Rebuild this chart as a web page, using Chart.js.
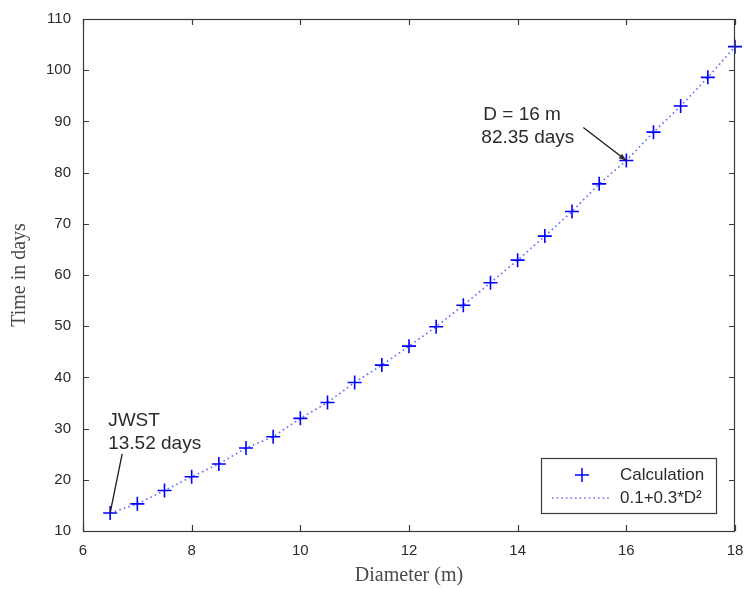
<!DOCTYPE html>
<html>
<head>
<meta charset="utf-8">
<title>Time vs diameter</title>
<script src="https://cdn.jsdelivr.net/npm/chart.js@4/dist/chart.umd.min.js"></script>
<style>
  html, body { margin: 0; padding: 0; background: #ffffff; }
  #wrap { width: 744px; height: 589px; }
</style>
</head>
<body>
<div id="wrap"><canvas id="chart" width="744" height="589"></canvas></div>
<script>
// Mirror diameters (m)
const diameters = [6.5, 7, 7.5, 8, 8.5, 9, 9.5, 10, 10.5, 11, 11.5, 12,
                   12.5, 13, 13.5, 14, 14.5, 15, 15.5, 16, 16.5, 17, 17.5, 18];
// Calculated time in days for each diameter
const calcDays = [13.52, 15.3, 17.9, 20.6, 23.1, 26.2, 28.4, 32.0, 35.1, 39.0, 42.4, 46.1,
                  49.9, 54.1, 58.5, 62.9, 67.6, 72.4, 77.8, 82.35, 87.9, 93.0, 98.6, 104.6];
// Quadratic fit curve sampled at the same diameters
const fitDays = [13.52, 15.3, 17.9, 20.6, 23.1, 26.2, 28.4, 32.0, 35.1, 39.0, 42.4, 46.1,
                 49.9, 54.1, 58.5, 62.9, 67.6, 72.4, 77.8, 82.35, 87.9, 93.0, 98.6, 104.6];

const xTicks = [6, 8, 10, 12, 14, 16, 18];
const yTicks = [10, 20, 30, 40, 50, 60, 70, 80, 90, 100, 110];

const seriesLabels = ['Calculation', '0.1+0.3*D\u00B2'];
const axisTitles = { x: 'Diameter (m)', y: 'Time in days' };
// Annotated points: index into the series plus a name line
const callouts = [
  { index: 0, title: 'JWST' },
  { index: 19, title: 'D = 16 m' }
];

const INK = '#2b2b2b';
const FRAME = '#3a3a3a';
const BLUE = '#0000ff';
const DOTS = 'rgba(70,70,255,0.8)';
const SANS = '"Liberation Sans", Arial, sans-serif';
const SERIF = '"Liberation Serif", "Times New Roman", serif';

const calcPoints = diameters.map((d, i) => ({ x: d, y: calcDays[i] }));
const fitPoints = diameters.map((d, i) => ({ x: d, y: fitDays[i] }));

// Frame with inward ticks on all four sides
const framePlugin = {
  id: 'frame',
  afterDraw(chart) {
    const { ctx, chartArea: a, scales } = chart;
    ctx.save();
    ctx.strokeStyle = FRAME;
    ctx.lineWidth = 1.2;
    ctx.strokeRect(a.left + 0.5, a.top + 0.5, a.right - a.left - 1, a.bottom - a.top);
    const len = 6;
    ctx.beginPath();
    xTicks.forEach(v => {
      const px = Math.round(scales.x.getPixelForValue(v)) + 0.5;
      ctx.moveTo(px, a.bottom); ctx.lineTo(px, a.bottom - len);
      ctx.moveTo(px, a.top); ctx.lineTo(px, a.top + len);
    });
    yTicks.forEach(v => {
      const py = Math.round(scales.y.getPixelForValue(v)) + 0.5;
      ctx.moveTo(a.left, py); ctx.lineTo(a.left + len, py);
      ctx.moveTo(a.right, py); ctx.lineTo(a.right - len, py);
    });
    ctx.stroke();
    ctx.restore();
  }
};

// Callout labels with leader lines
const calloutPlugin = {
  id: 'callouts',
  afterDatasetsDraw(chart) {
    const { ctx, scales } = chart;
    ctx.save();
    ctx.font = '19px ' + SANS;
    ctx.fillStyle = INK;
    ctx.strokeStyle = '#1a1a1a';
    ctx.lineWidth = 1.3;
    ctx.textBaseline = 'middle';
    ctx.textAlign = 'left';

    // JWST: label above, plain leader line
    {
      const c = callouts[0];
      const px = scales.x.getPixelForValue(diameters[c.index]);
      const py = scales.y.getPixelForValue(calcDays[c.index]);
      ctx.beginPath();
      ctx.moveTo(px, py);
      ctx.lineTo(px + 12, py - 59);
      ctx.stroke();
      ctx.fillText(c.title, px - 2, py - 92);
      ctx.fillText(calcDays[c.index].toFixed(2) + ' days', px - 2, py - 69);
    }
    // D = 16 m: label to the upper left, arrow to the point
    {
      const c = callouts[1];
      const px = scales.x.getPixelForValue(diameters[c.index]);
      const py = scales.y.getPixelForValue(calcDays[c.index]);
      const sx = px - 43, sy = py - 33;
      ctx.beginPath();
      ctx.moveTo(sx, sy);
      ctx.lineTo(px, py);
      ctx.stroke();
      const ang = Math.atan2(py - sy, px - sx);
      const ah = 8, aw = 0.35;
      ctx.beginPath();
      ctx.moveTo(px, py);
      ctx.lineTo(px - ah * Math.cos(ang - aw), py - ah * Math.sin(ang - aw));
      ctx.lineTo(px - ah * Math.cos(ang + aw), py - ah * Math.sin(ang + aw));
      ctx.closePath();
      ctx.fill();
      ctx.fillText(c.title, px - 143, py - 46);
      ctx.fillText(calcDays[c.index].toFixed(2) + ' days', px - 145, py - 23);
    }
    ctx.restore();
  }
};

// Boxed legend in the lower right corner of the plot
const legendPlugin = {
  id: 'boxLegend',
  afterDraw(chart) {
    const { ctx, chartArea: a } = chart;
    const right = a.right - 19, bottom = a.bottom - 18;
    const w = 175, h = 55;
    const left = right - w, top = bottom - h;
    ctx.save();
    ctx.fillStyle = '#ffffff';
    ctx.fillRect(left, top, w, h);
    ctx.strokeStyle = FRAME;
    ctx.lineWidth = 1.2;
    ctx.strokeRect(left + 0.5, top + 0.5, w, h);

    const r1 = top + 17, r2 = top + 40;
    // marker sample
    ctx.strokeStyle = BLUE;
    ctx.lineWidth = 1.5;
    ctx.beginPath();
    ctx.moveTo(left + 34, r1); ctx.lineTo(left + 48, r1);
    ctx.moveTo(left + 41, r1 - 7); ctx.lineTo(left + 41, r1 + 7);
    ctx.stroke();
    // dotted line sample
    ctx.strokeStyle = DOTS;
    ctx.setLineDash([1.6, 3]);
    ctx.beginPath();
    ctx.moveTo(left + 11, r2); ctx.lineTo(left + 69, r2);
    ctx.stroke();
    ctx.setLineDash([]);

    ctx.fillStyle = INK;
    ctx.font = '17px ' + SANS;
    ctx.textBaseline = 'middle';
    ctx.textAlign = 'left';
    ctx.fillText(seriesLabels[0], left + 79, r1);
    ctx.fillText(seriesLabels[1], left + 79, r2);
    ctx.restore();
  }
};

new Chart(document.getElementById('chart'), {
  type: 'scatter',
  data: {
    datasets: [
      {
        label: seriesLabels[1],
        data: fitPoints,
        showLine: true,
        borderColor: DOTS,
        borderWidth: 1.7,
        borderDash: [1.6, 3.2],
        pointRadius: 0,
        pointHoverRadius: 0,
        fill: false,
        clip: false,
        order: 2
      },
      {
        label: seriesLabels[0],
        data: calcPoints,
        showLine: false,
        pointStyle: 'cross',
        pointRadius: 7,
        pointBorderWidth: 1.6,
        pointBorderColor: BLUE,
        pointBackgroundColor: BLUE,
        clip: false,
        order: 1
      }
    ]
  },
  options: {
    responsive: false,
    animation: false,
    devicePixelRatio: 1,
    layout: { padding: { top: 19, right: 9, left: 0, bottom: 0 } },
    plugins: {
      legend: { display: false },
      tooltip: { enabled: false }
    },
    scales: {
      x: {
        type: 'linear',
        min: 6, max: 18,
        afterBuildTicks(scale) { scale.ticks = xTicks.map(v => ({ value: v })); },
        afterFit(scale) { scale.height = 58; scale.paddingLeft = 0; scale.paddingRight = 0; },
        grid: { display: false, drawTicks: false },
        border: { display: false },
        ticks: { color: INK, font: { family: SANS, size: 15 }, padding: 11, maxRotation: 0 },
        title: { display: true, text: axisTitles.x, color: '#4a4a4a',
                 font: { family: SERIF, size: 20 }, padding: { top: 0, bottom: 1 } }
      },
      y: {
        type: 'linear',
        min: 10, max: 110,
        afterBuildTicks(scale) { scale.ticks = yTicks.map(v => ({ value: v })); },
        afterFit(scale) { scale.width = 83; scale.paddingTop = 0; scale.paddingBottom = 0; },
        grid: { display: false, drawTicks: false },
        border: { display: false },
        ticks: { color: INK, font: { family: SANS, size: 15 }, padding: 12 },
        title: { display: true, text: axisTitles.y, color: '#4a4a4a',
                 font: { family: SERIF, size: 20 }, padding: { top: 8, bottom: 0 } }
      }
    }
  },
  plugins: [framePlugin, calloutPlugin, legendPlugin]
});
</script>
</body>
</html>
